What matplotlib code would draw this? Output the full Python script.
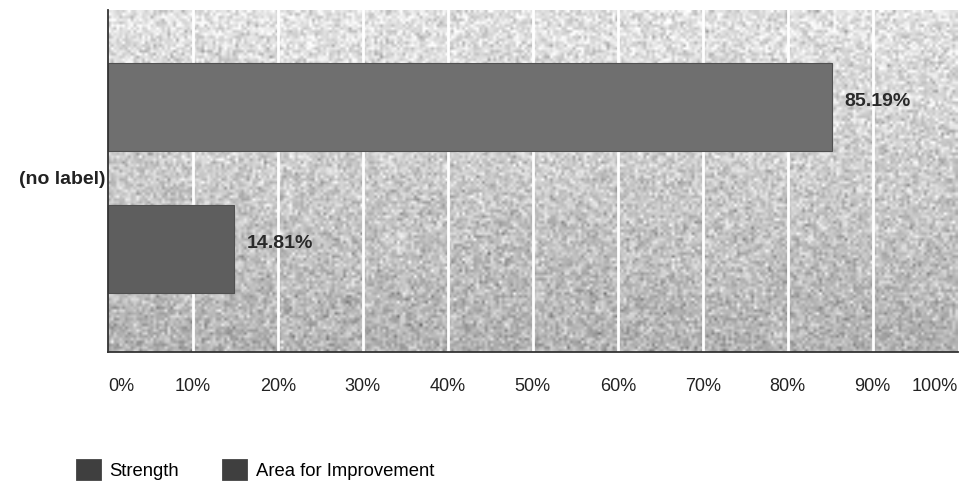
import numpy as np
import matplotlib
matplotlib.use("Agg")
import matplotlib.pyplot as plt
from matplotlib.patches import Patch

plt.rcParams['font.family'] = ['Liberation Sans', 'DejaVu Sans']

category = "(no label)"
series = ["Strength", "Area for Improvement"]
values = [85.19, 14.81]
ticks = [0, 10, 20, 30, 40, 50, 60, 70, 80, 90, 100]
tick_labels = [f"{t}%" for t in ticks]

bar_colors = ["#6f6f6f", "#5e5e5e"]
legend_colors = ["#3f3f3f", "#3f3f3f"]

fig = plt.figure(figsize=(9.6, 4.87), dpi=100)
ax = fig.add_axes([0.1125, 0.277, 0.885, 0.702])

# speckled grey backdrop, lighter towards the top
rng = np.random.default_rng(7)
h, w = 120, 300
shade = np.linspace(0.89, 0.70, h)[:, None] * np.ones((1, w))
shade = shade + rng.normal(0, 0.08, (h, w))
shade = np.clip(shade, 0, 1)
ax.imshow(shade, cmap="gray", vmin=0, vmax=1, aspect="auto",
          extent=[0, 100, -0.613, 0.59], origin="upper",
          interpolation="bilinear", zorder=0)

offsets = [0.25, -0.25]
for name, val, off, col in zip(series, values, offsets, bar_colors):
    ax.barh(off, val, height=0.31, color=col, edgecolor="#505050",
            linewidth=0.8, zorder=3, label=name)
    ax.text(val + 1.5, off + 0.02, f"{val:.2f}%", va="center", ha="left",
            fontsize=14, fontweight="bold", color="#2a2a2a", zorder=4)

ax.set_xlim(0, 100)
ax.set_ylim(-0.613, 0.59)
for t in ticks[1:-1]:
    ax.axvline(t, color="white", linewidth=2, zorder=1)

ax.set_yticks([0])
ax.set_yticklabels([category], fontsize=14, fontweight="bold", color="#222222")
ax.set_xticks(ticks)
ax.set_xticklabels(tick_labels, fontsize=13, color="#222222")
xl = ax.get_xticklabels()
xl[0].set_ha("left")
xl[-1].set_ha("right")
ax.tick_params(axis="x", length=0, pad=19)
ax.tick_params(axis="y", length=0, pad=2)

for s in ["top", "right"]:
    ax.spines[s].set_visible(False)
for s in ["left", "bottom"]:
    ax.spines[s].set_color("#333333")
    ax.spines[s].set_linewidth(1.3)
    ax.spines[s].set_zorder(5)

handles = [Patch(facecolor=c, edgecolor=c, linewidth=2, joinstyle="round",
                 label=n) for n, c in zip(series, legend_colors)]
fig.legend(handles=handles, loc="center left", bbox_to_anchor=(0.063, 0.035),
           ncol=2, frameon=False, fontsize=13.3, handlelength=1.25,
           handleheight=1.2, handletextpad=0.5, columnspacing=2.4)

fig.savefig("out.png", dpi=100, facecolor="white")
